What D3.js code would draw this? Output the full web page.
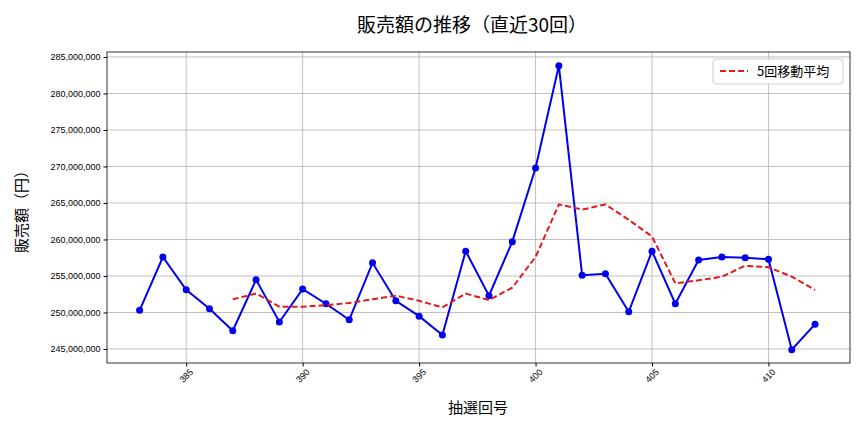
<!DOCTYPE html><html><head><meta charset="utf-8"><script src="https://cdn.jsdelivr.net/npm/d3@7"></script>
<style>body{margin:0;background:#fff;font-family:"Noto Sans CJK JP","DejaVu Sans",sans-serif}</style></head><body><svg id="c" width="864" height="432"></svg>
<script>
const draws=d3.range(383,413);
const sales=[250.3,257.6,253.1,250.5,247.5,254.5,248.7,253.2,251.2,249.0,256.8,251.6,249.5,246.9,258.4,252.3,259.7,269.8,283.8,255.1,255.3,250.1,258.4,251.2,257.2,257.6,257.5,257.3,244.9,248.4];
const maDraws=d3.range(387,413);
const ma=[251.8,252.6,250.8,250.8,251.0,251.3,251.8,252.3,251.6,250.7,252.6,251.7,253.4,257.6,264.8,264.1,264.8,262.7,260.4,254.0,254.4,254.9,256.4,256.2,254.9,253.1];
const xTicks=[385,390,395,400,405,410];
const yTicks=d3.range(245,286,5);
const svg=d3.select("#c");
const L=107,R=850,T=52,B=363;
const x=d3.scaleLinear().domain([381.6,413.5]).range([L,R]);
const y=d3.scaleLinear().domain([243.08,285.68]).range([B,T]);
const g=svg.append("g");
g.selectAll(".gx").data(xTicks).join("line").attr("x1",d=>x(d)).attr("x2",d=>x(d)).attr("y1",T).attr("y2",B).attr("stroke","#b0b0b0").attr("stroke-width",0.8);
g.selectAll(".gy").data(yTicks).join("line").attr("y1",d=>y(d)).attr("y2",d=>y(d)).attr("x1",L).attr("x2",R).attr("stroke","#b0b0b0").attr("stroke-width",0.8);
const xa=svg.append("g").attr("transform",`translate(0,${B})`).call(d3.axisBottom(x).tickValues(xTicks).tickSize(3.5).tickFormat(d3.format("d")));
xa.selectAll("text").attr("transform","rotate(-45)").attr("text-anchor","end").attr("dx","-0.2em").attr("dy","0.6em").style("font-size","9px");
const ya=svg.append("g").attr("transform",`translate(${L},0)`).call(d3.axisLeft(y).tickValues(yTicks).tickSize(3.5).tickFormat(d=>d3.format(",")(d*1e6)));
ya.selectAll("text").style("font-size","9px");
svg.selectAll(".domain").remove();
svg.append("rect").attr("x",L).attr("y",T).attr("width",R-L).attr("height",B-T).attr("fill","none").attr("stroke","#000").attr("stroke-width",0.8);
const line=d3.line().x(d=>x(d[0])).y(d=>y(d[1]));
svg.append("path").datum(draws.map((d,i)=>[d,sales[i]])).attr("d",line).attr("fill","none").attr("stroke","#0000ee").attr("stroke-width",2);
svg.selectAll(".pt").data(draws.map((d,i)=>[d,sales[i]])).join("circle").attr("cx",d=>x(d[0])).attr("cy",d=>y(d[1])).attr("r",3.5).attr("fill","#0000ee");
svg.append("path").datum(maDraws.map((d,i)=>[d,ma[i]])).attr("d",line).attr("fill","none").attr("stroke","#e31a1c").attr("stroke-width",2).attr("stroke-dasharray","6,3");
const lg=svg.append("g");
lg.append("rect").attr("x",713).attr("y",59).attr("width",130).attr("height",25).attr("fill","#fff").attr("stroke","#ccc").attr("rx",3);
lg.append("line").attr("x1",720).attr("x2",748).attr("y1",71).attr("y2",71).attr("stroke","#e31a1c").attr("stroke-width",2).attr("stroke-dasharray","6,3");
lg.append("text").attr("x",757).attr("y",76).text("5回移動平均").style("font-size","13px");
svg.append("text").attr("x",472).attr("y",32).attr("text-anchor","middle").text("販売額の推移（直近30回）").style("font-size","19px");
svg.append("text").attr("x",478).attr("y",413).attr("text-anchor","middle").text("抽選回号").style("font-size","15px");
svg.append("text").attr("transform","translate(27,208) rotate(-90)").attr("text-anchor","middle").text("販売額（円）").style("font-size","15px");
</script></body></html>
